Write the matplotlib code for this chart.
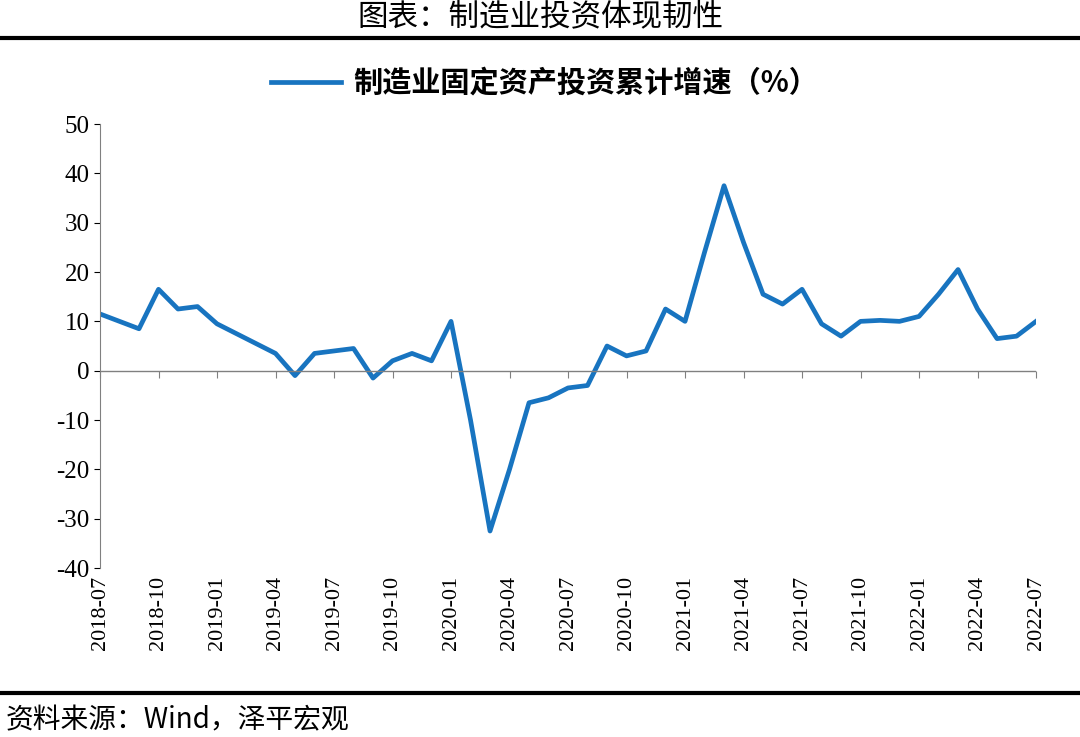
import matplotlib.pyplot as plt
import pandas as pd

plt.rcParams['font.family'] = ['Liberation Serif', 'Noto Sans CJK SC']
plt.rcParams['axes.unicode_minus'] = False

months = pd.period_range('2018-07', '2022-07', freq='M').strftime('%Y-%m').tolist()
growth = [11.5, 10, 8.5, 16.5, 12.5, 13, 9.5, 7.5, 5.5, 3.5,
          -1, 3.5, 4, 4.5, -1.5, 2, 3.5, 2, 10, -10,
          -32.5, -20, -6.5, -5.5, -3.5, -3, 5, 3, 4, 12.5,
          10, 24, 37.5, 26, 15.5, 13.5, 16.5, 9.5, 7, 10,
          10.2, 10, 11, 15.5, 20.5, 12.5, 6.5, 7, 10]
label = '制造业固定资产投资累计增速（%）'

fig = plt.figure(figsize=(10.8, 7.37), dpi=100)
ax = fig.add_axes([0.0926, 0.2293, 0.8667, 0.6024])
x = list(range(len(months)))
ax.plot(x, growth, color='#1874c0', lw=3.4, solid_joinstyle='round', label=label)

ax.set_xlim(0, len(months) - 1)
ax.set_ylim(-40, 50)
ax.set_yticks(range(-40, 51, 10))
ax.tick_params(axis='y', labelsize=18, direction='out', length=4)
ax.set_xticks(x[::3])
ax.set_xticklabels(months[::3], rotation=90, fontsize=16)
ax.tick_params(axis='x', length=0, pad=6)
for s in ['top', 'right', 'bottom']:
    ax.spines[s].set_visible(False)
ax.axhline(0, color='#808080', lw=1)
ax.spines['left'].set_color('#808080')
sec = ax.secondary_xaxis(40 / 90)
sec.set_xticks(x[::3])
sec.set_xticklabels([])
sec.tick_params(length=5, color='#808080', direction='out')
sec.spines['bottom'].set_visible(False)

leg = ax.legend(loc='lower center', bbox_to_anchor=(0.475, 1.0), frameon=False,
                prop={'family': 'Noto Sans CJK SC', 'weight': 'bold', 'size': 21},
                handlelength=2.4, handletextpad=0.4)

fig.text(0.5, 0.977, '图表：制造业投资体现韧性', ha='center', va='center',
         fontsize=22, family='Noto Sans CJK SC')
fig.add_artist(plt.Line2D([0, 1], [0.948, 0.948], color='black', lw=3))
fig.add_artist(plt.Line2D([0, 1], [0.06, 0.06], color='black', lw=3))
fig.text(0.005, 0.022, '资料来源：Wind，泽平宏观', ha='left', va='center',
         fontsize=20, style='italic', family='Noto Sans CJK SC')

fig.savefig('out.png', dpi=100)
